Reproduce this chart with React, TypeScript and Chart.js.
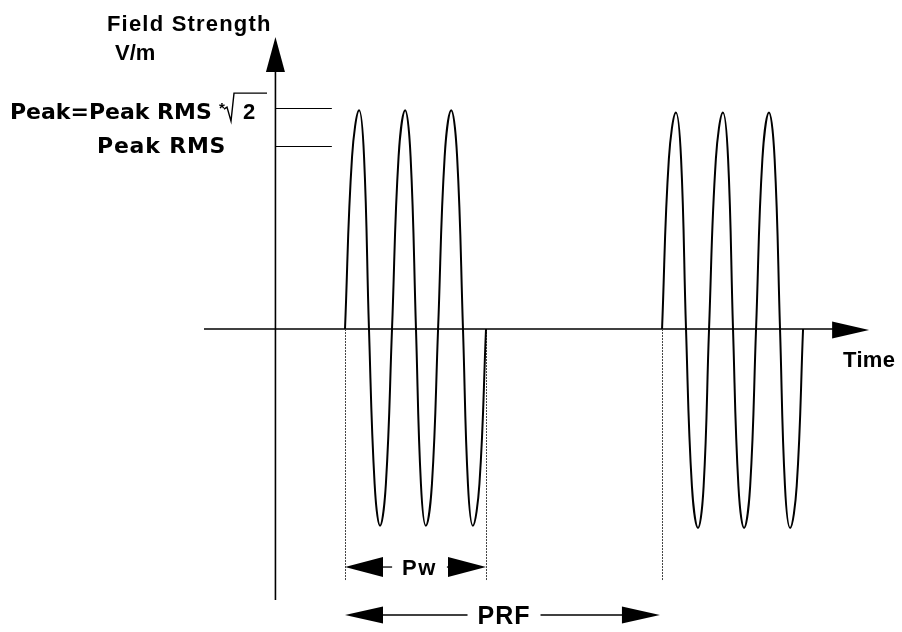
import { useEffect, useRef } from "react";
import { Chart, registerables } from "chart.js";

Chart.register(...registerables);

// Time is in carrier periods (pulse 1 starts at t = 0); field is relative to the peak.
const pulse1Time = [0, 0.15, 0.3, 0.405, 0.51, 0.63, 0.745, 0.87, 1.0, 1.14, 1.28, 1.395, 1.51, 1.615, 1.72, 1.85, 1.98, 2.12, 2.26, 2.385, 2.51, 2.615, 2.72, 2.86, 3.0];
const pulse1Field = [0, 0.78, 0.99, 0.78, 0, -0.7, -0.89, -0.7, 0, 0.78, 0.99, 0.78, 0, -0.7, -0.89, -0.7, 0, 0.78, 0.99, 0.78, 0, -0.7, -0.89, -0.7, 0];
const pulse2Time = [6.745, 6.89, 7.04, 7.15, 7.255, 7.38, 7.51, 7.63, 7.745, 7.89, 8.04, 8.15, 8.255, 8.37, 8.49, 8.62, 8.745, 8.88, 9.02, 9.14, 9.255, 9.36, 9.47, 9.61, 9.745];
const pulse2Field = [0, 0.77, 0.98, 0.77, 0, -0.71, -0.9, -0.71, 0, 0.77, 0.98, 0.77, 0, -0.71, -0.9, -0.71, 0, 0.77, 0.98, 0.77, 0, -0.71, -0.9, -0.71, 0];

// Reference levels
const levelValues = [1.0, 0.83]; // Peak, Peak RMS
const levelEndTime = -0.28;

// Axes
const timeRange = [-7.34, 11.85];
const fieldRange = [-1.371, 1.489];
const yAxisTime = -1.48;
const xAxisRange = [-3, 11.15];
const yAxisRange = [-1.226, 1.321];

// Pulse edge markers (dotted verticals)
const markerTimes = [0, 3, 6.745];
const markerBottom = -1.14;

// Dimension arrows
const dimLabels = ["Pw", "PRF"];
const dimStart = [0, 0];
const dimEnd = [3, 6.7];
const dimLevel = [-1.077, -1.294];
const dimLabelTime = [1.585, 3.383];

// Text labels
const labelTexts = ["Field Strength", "V/m", "Peak=Peak RMS", "*", "2", "Peak RMS", "Time"];
const labelTimes = [-5.064, -4.894, -7.128, -2.68, -2.17, -5.277, 10.596];
const labelFields = [1.348, 1.217, 0.95, 0.977, 0.95, 0.796, -0.172];

const SANS = '"Liberation Sans", Arial, sans-serif';
const WIDE = '"DejaVu Sans", sans-serif';
const labelFont = [SANS, SANS, WIDE, SANS, SANS, WIDE, SANS];
const labelSize = [22, 22, 22, 15, 22, 22, 22];
const labelSpacing = [1.2, 0, 0, 0, 0, 0.8, 0.3];

function toPoints(ts: number[], vs: number[]) {
  return ts.map((t, i) => ({ x: t, y: vs[i] }));
}

function arrowHead(ctx: CanvasRenderingContext2D, tipX: number, tipY: number, dx: number, dy: number, len: number, half: number) {
  const bx = tipX - dx * len;
  const by = tipY - dy * len;
  ctx.beginPath();
  ctx.moveTo(tipX, tipY);
  ctx.lineTo(bx - dy * half, by + dx * half);
  ctx.lineTo(bx + dy * half, by - dx * half);
  ctx.closePath();
  ctx.fill();
}

const diagramPlugin = {
  id: "diagram",
  beforeDatasetsDraw(chart: any) {
    const { ctx, scales } = chart;
    const px = (t: number) => scales.x.getPixelForValue(t);
    const py = (v: number) => scales.y.getPixelForValue(v);
    ctx.save();
    ctx.strokeStyle = "#000";
    ctx.fillStyle = "#000";

    // x axis
    const ax0 = px(xAxisRange[0]);
    const ax1 = px(xAxisRange[1]);
    const ay = py(0);
    ctx.lineWidth = 1.6;
    ctx.beginPath();
    ctx.moveTo(ax0, ay);
    ctx.lineTo(ax1 - 30, ay);
    ctx.stroke();
    arrowHead(ctx, ax1, ay + 1, 1, 0, 37, 8.5);

    // y axis
    const yx = px(yAxisTime);
    const yb = py(yAxisRange[0]);
    const yt = py(yAxisRange[1]);
    ctx.beginPath();
    ctx.moveTo(yx, yb);
    ctx.lineTo(yx, yt + 30);
    ctx.stroke();
    arrowHead(ctx, yx, yt, 0, -1, 35, 9.5);

    // level ticks
    ctx.lineWidth = 1.1;
    levelValues.forEach((v) => {
      const yy = Math.round(py(v)) + 0.5;
      ctx.beginPath();
      ctx.moveTo(yx, yy);
      ctx.lineTo(px(levelEndTime), yy);
      ctx.stroke();
    });

    // dotted pulse markers
    ctx.strokeStyle = "#444";
    ctx.lineWidth = 1;
    ctx.setLineDash([2, 1]);
    markerTimes.forEach((t) => {
      const xx = Math.round(px(t)) + 0.5;
      ctx.beginPath();
      ctx.moveTo(xx, py(0));
      ctx.lineTo(xx, py(markerBottom));
      ctx.stroke();
    });
    ctx.setLineDash([]);
    ctx.restore();
  },
  afterDatasetsDraw(chart: any) {
    const { ctx, scales } = chart;
    const px = (t: number) => scales.x.getPixelForValue(t);
    const py = (v: number) => scales.y.getPixelForValue(v);
    ctx.save();
    ctx.fillStyle = "#000";
    ctx.strokeStyle = "#000";

    // text labels
    ctx.textBaseline = "alphabetic";
    ctx.textAlign = "left";
    labelTexts.forEach((txt, i) => {
      ctx.font = `bold ${labelSize[i]}px ${labelFont[i]}`;
      (ctx as any).letterSpacing = `${labelSpacing[i]}px`;
      ctx.fillText(txt, px(labelTimes[i]), py(labelFields[i]));
    });
    (ctx as any).letterSpacing = "0px";

    // radical sign over the "2"
    const rx = px(labelTimes[4]);
    const ry = py(labelFields[4]);
    ctx.lineWidth = 1.4;
    ctx.beginPath();
    ctx.moveTo(rx - 19, ry - 10);
    ctx.lineTo(rx - 16, ry - 12);
    ctx.lineTo(rx - 12, ry + 2);
    ctx.lineTo(rx - 9, ry - 26);
    ctx.lineTo(rx + 24, ry - 26);
    ctx.stroke();

    // dimension arrows
    dimLabels.forEach((lab, i) => {
      const x0 = px(dimStart[i]);
      const x1 = px(dimEnd[i]);
      const yy = py(dimLevel[i]);
      const xc = px(dimLabelTime[i]);
      const size = i === 0 ? 22 : 25;
      ctx.font = `bold ${size}px ${SANS}`;
      (ctx as any).letterSpacing = i === 0 ? "1.5px" : "1px";
      const w = ctx.measureText(lab).width;
      ctx.textAlign = "center";
      ctx.textBaseline = "middle";
      ctx.fillText(lab, xc, yy + 2);
      (ctx as any).letterSpacing = "0px";
      const len = 38;
      const half = i === 0 ? 10 : 8.5;
      arrowHead(ctx, x0, yy, -1, 0, len, half);
      arrowHead(ctx, x1, yy, 1, 0, len, half);
      ctx.lineWidth = 1.3;
      const gapL = xc - w / 2 - 10;
      const gapR = xc + w / 2 + 10;
      if (gapL > x0 + len) {
        ctx.beginPath();
        ctx.moveTo(x0 + len - 1, yy);
        ctx.lineTo(gapL, yy);
        ctx.stroke();
      }
      if (gapR < x1 - len) {
        ctx.beginPath();
        ctx.moveTo(gapR, yy);
        ctx.lineTo(x1 - len + 1, yy);
        ctx.stroke();
      }
    });
    ctx.restore();
  },
};

export default function App() {
  const canvasRef = useRef<HTMLCanvasElement | null>(null);

  useEffect(() => {
    const canvas = canvasRef.current;
    if (!canvas) return;
    const waveStyle = {
      borderColor: "#000",
      borderWidth: 2,
      pointRadius: 0,
      fill: false,
      tension: 0.42,
    };
    const chart = new Chart(canvas, {
      type: "line",
      data: {
        datasets: [
          { label: "Pulse 1", data: toPoints(pulse1Time, pulse1Field), ...waveStyle },
          { label: "Pulse 2", data: toPoints(pulse2Time, pulse2Field), ...waveStyle },
        ],
      },
      options: {
        animation: false,
        responsive: false,
        maintainAspectRatio: false,
        layout: { padding: 0 },
        events: [],
        plugins: { legend: { display: false }, tooltip: { enabled: false }, title: { display: false } },
        scales: {
          x: { type: "linear", min: timeRange[0], max: timeRange[1], display: false },
          y: { type: "linear", min: fieldRange[0], max: fieldRange[1], display: false },
        },
      },
      plugins: [diagramPlugin],
    });
    return () => chart.destroy();
  }, []);

  return (
    <div style={{ position: "absolute", left: 0, top: 0, width: 902, height: 632, background: "#fff" }}>
      <canvas ref={canvasRef} width={902} height={632} style={{ display: "block", width: 902, height: 632 }} />
    </div>
  );
}
